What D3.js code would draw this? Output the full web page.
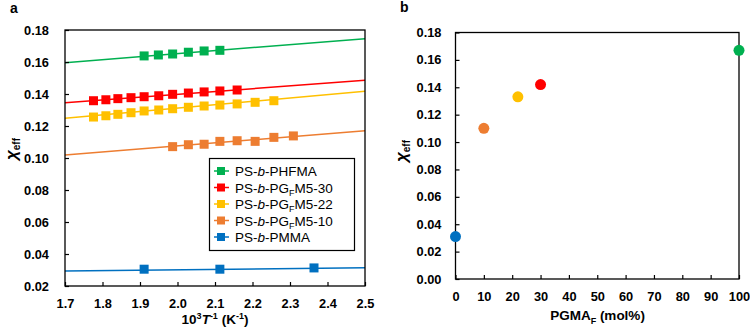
<!DOCTYPE html>
<html>
<head>
<meta charset="utf-8">
<script src="https://cdn.jsdelivr.net/npm/d3@7"></script>
<style>
  body { margin: 0; background: #fff; }
  svg { display: block; font-family: "Liberation Sans", Arial, sans-serif; }
</style>
</head>
<body>
<div id="chart"></div>
<script>
// panel a: chi_eff vs 1000/T
const seriesNames = ["PS-b-PHFMA", "PS-b-PGFM5-30", "PS-b-PGFM5-22", "PS-b-PGFM5-10", "PS-b-PMMA"];
const seriesColors = ["#00b050", "#ff0000", "#ffc000", "#ed7d31", "#0070c0"];
const invT = [
  [1.911, 1.949, 1.987, 2.029, 2.071, 2.113],
  [1.776, 1.809, 1.841, 1.876, 1.911, 1.950, 1.987, 2.029, 2.071, 2.113, 2.159],
  [1.776, 1.809, 1.841, 1.876, 1.911, 1.950, 1.987, 2.029, 2.071, 2.113, 2.159, 2.207, 2.257],
  [1.987, 2.029, 2.071, 2.113, 2.159, 2.207, 2.257, 2.309],
  [1.911, 2.113, 2.364]
];
const chiValues = [
  [0.1638, 0.1644, 0.1650, 0.1661, 0.1669, 0.1673],
  [0.1358, 0.1364, 0.1371, 0.1377, 0.1383, 0.1389, 0.1398, 0.1406, 0.1413, 0.1419, 0.1425],
  [0.1256, 0.1264, 0.1273, 0.1283, 0.1294, 0.1300, 0.1308, 0.1317, 0.1325, 0.1331, 0.1338, 0.1348, 0.1358],
  [0.1071, 0.1083, 0.1086, 0.1104, 0.1108, 0.1104, 0.1129, 0.1138],
  [0.0305, 0.0305, 0.0313]
];
// linear fits, value at 1.7 and at 2.5
const fitStart = [0.1596, 0.1346, 0.1248, 0.1019, 0.0294];
const fitEnd = [0.1746, 0.1486, 0.1417, 0.1171, 0.0314];
const xTicksA = [1.7, 1.8, 1.9, 2.0, 2.1, 2.2, 2.3, 2.4, 2.5];
const yTicksA = [0.02, 0.04, 0.06, 0.08, 0.10, 0.12, 0.14, 0.16, 0.18];

// panel b: chi_eff vs PGMA_F content
const pgmaF = [0, 10, 22, 30, 100];
const chiB = [0.031, 0.110, 0.133, 0.142, 0.167];
const colorsB = ["#0070c0", "#ed7d31", "#ffc000", "#ff0000", "#00b050"];
const xTicksB = [0, 10, 20, 30, 40, 50, 60, 70, 80, 90, 100];
const yTicksB = [0, 0.02, 0.04, 0.06, 0.08, 0.10, 0.12, 0.14, 0.16, 0.18];

const W = 750, H = 329;
const svg = d3.select("#chart").append("svg").attr("width", W).attr("height", H);

function frame(g, x, y, xTicks, yTicks, xFmt, yFmt, yPad) {
  const [x0, x1] = x.range(), [y0, y1] = y.range();
  g.append("g").attr("transform", `translate(0,${y0})`)
    .call(d3.axisBottom(x).tickValues(xTicks).tickFormat(xFmt).tickSizeInner(-4).tickSizeOuter(0).tickPadding(12.5));
  g.append("g").attr("transform", `translate(${x0},0)`)
    .call(d3.axisLeft(y).tickValues(yTicks).tickFormat(yFmt).tickSizeInner(-4).tickSizeOuter(0).tickPadding(yPad));
  g.selectAll(".tick text").attr("font-size", 12.8).attr("font-weight", "bold").attr("fill", "#000")
    .attr("font-family", "Liberation Sans, Arial, sans-serif");
  g.selectAll(".tick line").attr("stroke", "#000").attr("stroke-width", 1.2);
  g.selectAll(".domain").remove();
  g.append("rect").attr("x", x0).attr("y", y1).attr("width", x1 - x0).attr("height", y0 - y1)
    .attr("fill", "none").attr("stroke", "#000").attr("stroke-width", 1.3);
}

// ---- panel a
const xA = d3.scaleLinear().domain([1.7, 2.5]).range([65, 365]);
const yA = d3.scaleLinear().domain([0.02, 0.18]).range([286, 30]);
const gA = svg.append("g");

seriesNames.forEach((name, i) => {
  gA.append("line")
    .attr("x1", xA(1.7)).attr("y1", yA(fitStart[i]))
    .attr("x2", xA(2.5)).attr("y2", yA(fitEnd[i]))
    .attr("stroke", seriesColors[i]).attr("stroke-width", 1.5);
  gA.selectAll(null).data(d3.zip(invT[i], chiValues[i])).join("rect")
    .attr("x", d => xA(d[0]) - 4.5).attr("y", d => yA(d[1]) - 4.5)
    .attr("width", 9).attr("height", 9).attr("fill", seriesColors[i]);
});
frame(gA, xA, yA, xTicksA, yTicksA, d3.format(".1f"), d3.format(".2f"), 16);

// legend
const leg = gA.append("g");
leg.append("rect").attr("x", 209.5).attr("y", 158.5).attr("width", 145).attr("height", 92)
  .attr("fill", "#fff").attr("stroke", "#000").attr("stroke-width", 1.2);
seriesNames.forEach((name, i) => {
  const cy = 171 + i * 16.5;
  leg.append("line").attr("x1", 214).attr("x2", 229).attr("y1", cy).attr("y2", cy)
    .attr("stroke", seriesColors[i]).attr("stroke-width", 1.5);
  leg.append("rect").attr("x", 217).attr("y", cy - 4).attr("width", 8).attr("height", 8).attr("fill", seriesColors[i]);
  const t = leg.append("text").attr("x", 235).attr("y", cy + 5).attr("font-size", 13.5).attr("fill", "#000");
  const m = name.match(/^PS-b-(PG)(F)(.*)$/);
  t.append("tspan").text("PS-");
  t.append("tspan").attr("font-style", "italic").text("b");
  if (m) {
    t.append("tspan").text("-PG");
    t.append("tspan").attr("font-size", 9).attr("dy", 3).text("F");
    t.append("tspan").attr("dy", -3).text(m[3]);
  } else {
    t.append("tspan").text(name.slice(4));
  }
});

// axis labels a
const xlA = gA.append("text").attr("x", 215).attr("y", 324).attr("text-anchor", "middle")
  .attr("font-size", 13.5).attr("font-weight", "bold");
xlA.append("tspan").text("10");
xlA.append("tspan").attr("font-size", 9).attr("dy", -5).text("3");
xlA.append("tspan").attr("dy", 5).attr("font-style", "italic").text("T");
xlA.append("tspan").attr("font-size", 9).attr("dy", -5).text("-1");
xlA.append("tspan").attr("dy", 5).text(" (K");
xlA.append("tspan").attr("font-size", 9).attr("dy", -5).text("-1");
xlA.append("tspan").attr("dy", 5).text(")");

function chiLabel(x, y) {
  const t = svg.append("text").attr("transform", `translate(${x},${y}) rotate(-90)`)
    .attr("text-anchor", "middle").attr("font-weight", "bold");
  t.append("tspan").attr("font-size", 17).attr("font-style", "italic").text("χ");
  t.append("tspan").attr("font-size", 10).attr("dy", 3).text("eff");
}
chiLabel(17, 149);

svg.append("text").attr("x", 10).attr("y", 13).attr("font-size", 14).attr("font-weight", "bold").text("a");

// ---- panel b
const xB = d3.scaleLinear().domain([0, 100]).range([455.5, 739]);
const yB = d3.scaleLinear().domain([0, 0.18]).range([279, 32.5]);
const gB = svg.append("g");
frame(gB, xB, yB, xTicksB, yTicksB, d3.format("d"), d3.format(".2f"), 14);
gB.selectAll(null).data(d3.range(pgmaF.length)).join("circle")
  .attr("cx", i => xB(pgmaF[i])).attr("cy", i => yB(chiB[i])).attr("r", 5.5)
  .attr("fill", i => colorsB[i]);

const xlB = gB.append("text").attr("x", 597.5).attr("y", 320).attr("text-anchor", "middle")
  .attr("font-size", 13.5).attr("font-weight", "bold");
xlB.append("tspan").text("PGMA");
xlB.append("tspan").attr("font-size", 9).attr("dy", 4).text("F");
xlB.append("tspan").attr("dy", -4).text(" (mol%)");

chiLabel(407, 151);
svg.append("text").attr("x", 400).attr("y", 12).attr("font-size", 14).attr("font-weight", "bold").text("b");
</script>
</body>
</html>
